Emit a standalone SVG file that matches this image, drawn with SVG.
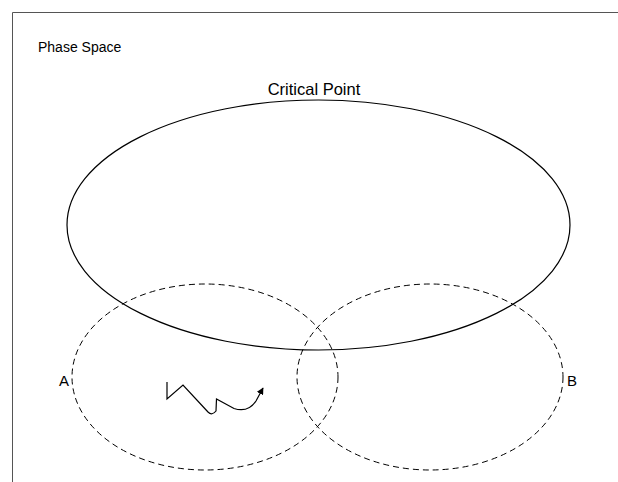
<svg xmlns="http://www.w3.org/2000/svg" width="618" height="482" viewBox="0 0 618 482">
<defs>
<style>
.t{font-family:"Liberation Sans",Arial,sans-serif;font-size:14px;fill:#000}
.sol{fill:none;stroke:#000;stroke-width:1.2}
.dash{fill:none;stroke:#000;stroke-width:1;stroke-dasharray:6,4}
</style>
<marker id="ah" viewBox="0 0 10 10" refX="9" refY="5" markerWidth="7" markerHeight="7" orient="auto" markerUnits="userSpaceOnUse">
<path d="M0,0 L10,5 L0,10 z" fill="#000"/>
</marker>
</defs>
<rect width="618" height="482" fill="#fff"/>
<path d="M12.5,482 L12.5,12.5 L618,12.5" fill="none" stroke="#555" stroke-width="1"/>
<text class="t" x="38" y="52">Phase Space</text>
<g id="critical">
<ellipse class="sol" cx="318.5" cy="225" rx="251.5" ry="125"/>
<text class="t" x="314" y="95" text-anchor="middle" style="font-size:16.5px">Critical Point</text>
</g>
<g id="A">
<ellipse class="dash" cx="205" cy="377" rx="133" ry="93"/>
<text class="t" x="59" y="386" style="font-size:15px">A</text>
</g>
<g id="B">
<ellipse class="dash" cx="430" cy="377" rx="133" ry="93"/>
<text class="t" x="567" y="386" style="font-size:15px">B</text>
</g>
<g id="connectors">
<path class="sol" d="M167,382 L167,399 L183,385 L208,412 Q212,416 216,411 L216.5,399 L234,408.5 Q248,413 256,401 L263,388" marker-end="url(#ah)"/>
</g>
</svg>
